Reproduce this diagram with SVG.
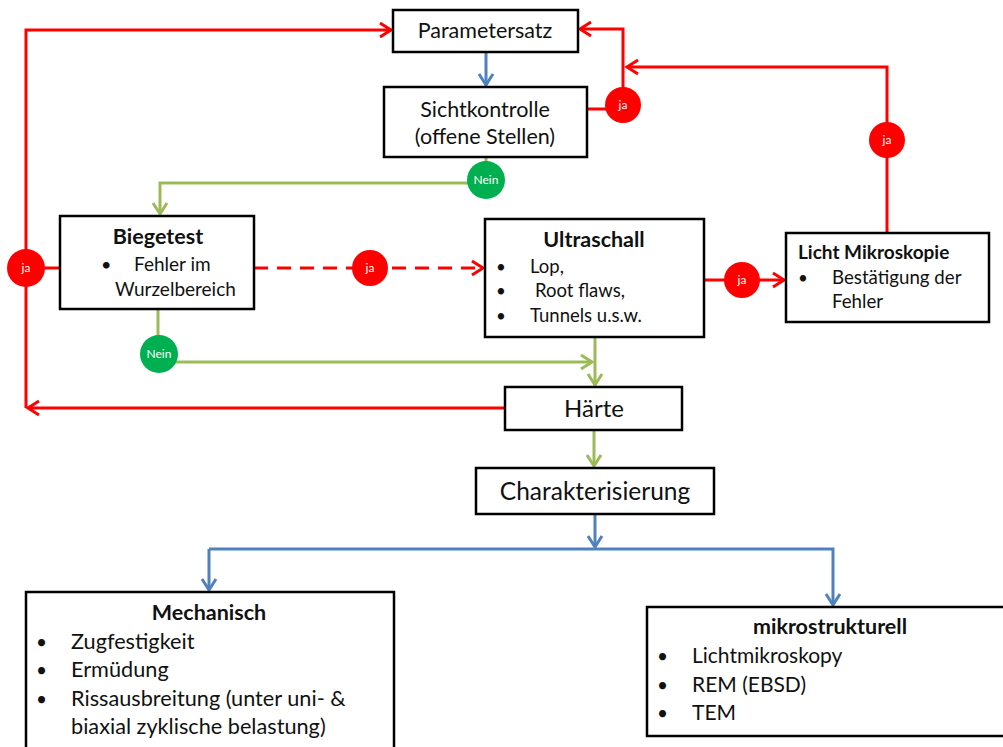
<svg xmlns="http://www.w3.org/2000/svg" width="1003" height="747" viewBox="0 0 1003 747">
<style>
.box{fill:#fff;stroke:#000;stroke-width:2.5}
.t{font-family:Lato,"Liberation Sans",sans-serif;fill:#111}
.b{font-weight:bold}
.r{stroke:#ff0000;stroke-width:3;fill:none}
.g{stroke:#9bbb59;stroke-width:3;fill:none}
.bl{stroke:#4f81bd;stroke-width:3;fill:none}
.ja{fill:#ff0000}
.nein{fill:#00b050}
.ct{font-family:Lato,"Liberation Sans",sans-serif;fill:#fff;font-size:12px;text-anchor:middle}
</style>
<defs>
<marker id="ar" markerUnits="userSpaceOnUse" markerWidth="18" markerHeight="18" refX="14" refY="9" orient="auto"><path d="M3,2 L14,9 L3,16" fill="none" stroke="#ff0000" stroke-width="3"/></marker>
<marker id="ag" markerUnits="userSpaceOnUse" markerWidth="18" markerHeight="18" refX="14" refY="9" orient="auto"><path d="M3,2 L14,9 L3,16" fill="none" stroke="#9bbb59" stroke-width="3"/></marker>
<marker id="ab" markerUnits="userSpaceOnUse" markerWidth="18" markerHeight="18" refX="14" refY="9" orient="auto"><path d="M3,2 L14,9 L3,16" fill="none" stroke="#4f81bd" stroke-width="3"/></marker>
</defs>
<g id="connectors">
<path class="r" d="M26,408 L26,30 L391,30" marker-end="url(#ar)"/>
<path class="bl" d="M486,52 L486,85" marker-end="url(#ab)"/>
<path class="r" d="M587,109 L623,109 L623,29 L580,29" marker-end="url(#ar)"/>
<path class="r" d="M887,233 L887,67 L627,67" marker-end="url(#ar)"/>
<path class="g" d="M486,157 L486,183 L160,183 L160,214" marker-end="url(#ag)"/>
<path class="r" d="M60,268 L26,268"/>
<path class="r" d="M254,268 L483,268" stroke-dasharray="14,9" marker-end="url(#ar)"/>
<path class="r" d="M704,280 L784,280" marker-end="url(#ar)"/>
<path class="g" d="M158,309 L158,362 L592,362" marker-end="url(#ag)"/>
<path class="g" d="M595,337 L595,385" marker-end="url(#ag)"/>
<path class="r" d="M505,408 L28,408" marker-end="url(#ar)"/>
<path class="g" d="M594,430 L594,466" marker-end="url(#ag)"/>
<path class="bl" d="M595,514 L595,547" marker-end="url(#ab)"/>
<path class="bl" d="M209,549 L833,549 L833,605" marker-end="url(#ab)"/>
<path class="bl" d="M209,549 L209,590" marker-end="url(#ab)"/>
</g>
<g id="n_param"><rect class="box" x="393" y="10" width="185" height="42"/><text class="t" x="485" y="38" font-size="21.5" text-anchor="middle">Parametersatz</text></g>
<g id="n_sicht"><rect class="box" x="384" y="87" width="203" height="70"/><text class="t" x="485" y="117" font-size="21.5" text-anchor="middle">Sichtkontrolle</text><text class="t" x="485" y="144" font-size="21.5" text-anchor="middle">(offene Stellen)</text></g>
<g id="n_biege"><rect class="box" x="60" y="216" width="194" height="93"/><text class="t b" x="158" y="244" font-size="21.5" text-anchor="middle">Biegetest</text><text class="t" x="101" y="271" font-size="18">•</text><text class="t" x="134" y="271" font-size="19">Fehler im</text><text class="t" x="115" y="296" font-size="19">Wurzelbereich</text></g>
<g id="n_ultra"><rect class="box" x="485" y="219" width="219" height="118"/><text class="t b" x="594" y="247" font-size="21.5" text-anchor="middle">Ultraschall</text><text class="t" x="496" y="273" font-size="17">•</text><text class="t" x="530" y="273" font-size="18.5">Lop,</text><text class="t" x="496" y="297" font-size="17">•</text><text class="t" x="535" y="297" font-size="18.5">Root flaws,</text><text class="t" x="496" y="322" font-size="17">•</text><text class="t" x="530" y="322" font-size="18.5">Tunnels u.s.w.</text></g>
<g id="n_licht"><rect class="box" x="786" y="233" width="203" height="89"/><text class="t b" x="798" y="259" font-size="19">Licht Mikroskopie</text><text class="t" x="798" y="284" font-size="17">•</text><text class="t" x="832" y="284" font-size="18.7">Bestätigung der</text><text class="t" x="832" y="308" font-size="18.7">Fehler</text></g>
<g id="n_haerte"><rect class="box" x="505" y="387" width="177" height="43"/><text class="t" x="594" y="417" font-size="24" text-anchor="middle">Härte</text></g>
<g id="n_charakt"><rect class="box" x="476" y="468" width="238" height="46"/><text class="t" x="595" y="500" font-size="24.5" text-anchor="middle">Charakterisierung</text></g>
<g id="n_mech"><rect class="box" x="26" y="592" width="368" height="170"/><text class="t b" x="209" y="620" font-size="21.5" text-anchor="middle">Mechanisch</text><text class="t" x="36" y="649" font-size="19">•</text><text class="t" x="71" y="649" font-size="21.7">Zugfestigkeit</text><text class="t" x="36" y="677" font-size="19">•</text><text class="t" x="71" y="677" font-size="21.7">Ermüdung</text><text class="t" x="36" y="706" font-size="19">•</text><text class="t" x="71" y="706" font-size="21.7">Rissausbreitung (unter uni- &amp;</text><text class="t" x="71" y="734" font-size="21.7">biaxial zyklische belastung)</text></g>
<g id="n_mikro"><rect class="box" x="647" y="607" width="370" height="129"/><text class="t b" x="830" y="634" font-size="21.5" text-anchor="middle">mikrostrukturell</text><text class="t" x="657" y="663" font-size="19">•</text><text class="t" x="692" y="663" font-size="21">Lichtmikroskopy</text><text class="t" x="657" y="692" font-size="19">•</text><text class="t" x="692" y="692" font-size="21">REM (EBSD)</text><text class="t" x="657" y="720" font-size="19">•</text><text class="t" x="692" y="720" font-size="21">TEM</text></g>
<g id="c_ja1"><circle class="ja" cx="623" cy="105" r="18"/><text class="ct" x="623" y="109">ja</text></g>
<g id="c_ja2"><circle class="ja" cx="887" cy="140" r="18"/><text class="ct" x="887" y="144">ja</text></g>
<g id="c_ja3"><circle class="ja" cx="26" cy="268" r="19"/><text class="ct" x="26" y="272">ja</text></g>
<g id="c_ja4"><circle class="ja" cx="370" cy="268" r="18"/><text class="ct" x="370" y="272">ja</text></g>
<g id="c_ja5"><circle class="ja" cx="742" cy="280" r="18"/><text class="ct" x="742" y="284">ja</text></g>
<g id="c_nein1"><circle class="nein" cx="486" cy="180" r="19"/><text class="ct" x="486" y="184">Nein</text></g>
<g id="c_nein2"><circle class="nein" cx="159" cy="354" r="19"/><text class="ct" x="159" y="358">Nein</text></g>
</svg>
